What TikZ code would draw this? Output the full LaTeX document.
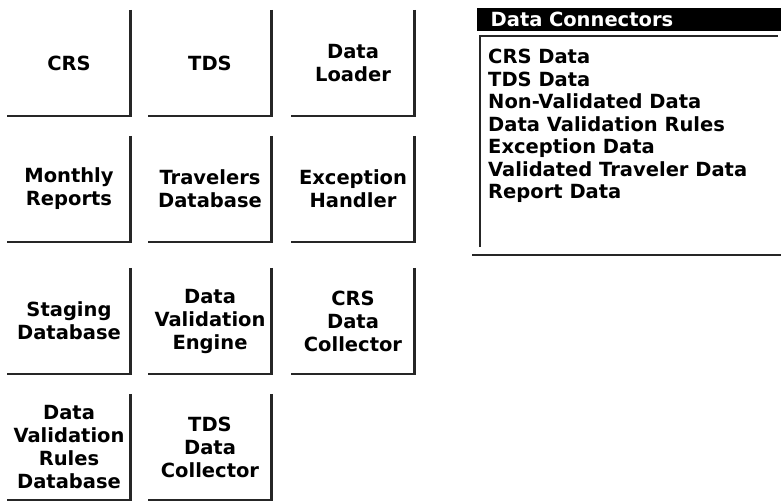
\documentclass[tikz,border=0pt]{standalone}
\usepackage{fontspec}
\setmainfont{DejaVu Sans}
\usetikzlibrary{positioning}

\tikzset{
  blk/.style={minimum width=123pt, minimum height=106pt, inner sep=0pt,
    align=center, font=\fontsize{19.5}{23}\selectfont\bfseries},
  rim/.style={line width=2.5pt, draw=black!85},
  listfont/.style={font=\fontsize{19.5}{22.5}\selectfont\bfseries}
}

\begin{document}
\begin{tikzpicture}[x=1pt, y=-1pt]
\useasboundingbox (0,0) rectangle (781,501);
% component boxes, open on top and left
\foreach \nm/\cx/\cy/\txt in {
    crs/69/63/CRS, tds/210/63/TDS, loader/353/63/{Data\\Loader},
    monthly/69/189/{Monthly\\Reports}, travdb/210/189/{Travelers\\Database},
    exc/353/189/{Exception\\Handler},
    staging/69/321/{Staging\\Database}, engine/210/321/{Data\\Validation\\Engine},
    crscoll/353/321/{CRS\\Data\\Collector},
    rulesdb/69/447/{Data\\Validation\\Rules\\Database}, tdscoll/210/447/{TDS\\Data\\Collector}}
  { \node[blk] (\nm) at (\cx,\cy) {\txt};
    \draw[rim] (\nm.north east) -- (\nm.south east) -- (\nm.south west);
  }
% connector list panel
\node[fill=black, text=white, anchor=west, minimum width=304pt, minimum height=23pt,
  inner sep=0pt, text width=295pt, align=left, listfont] (hdr) at (477,19.5)
  {\hspace*{9pt}Data Connectors};
\node[anchor=north west, inner sep=0pt, align=left, listfont] (lst) at (488,49)
  {CRS Data\\TDS Data\\Non-Validated Data\\Data Validation Rules\\Exception Data\\Validated Traveler Data\\Report Data};
\draw[rim] (480,247) -- (480,36) -- (778,36);
\draw[rim] (472,255) -- (781,255);
\end{tikzpicture}
\end{document}
